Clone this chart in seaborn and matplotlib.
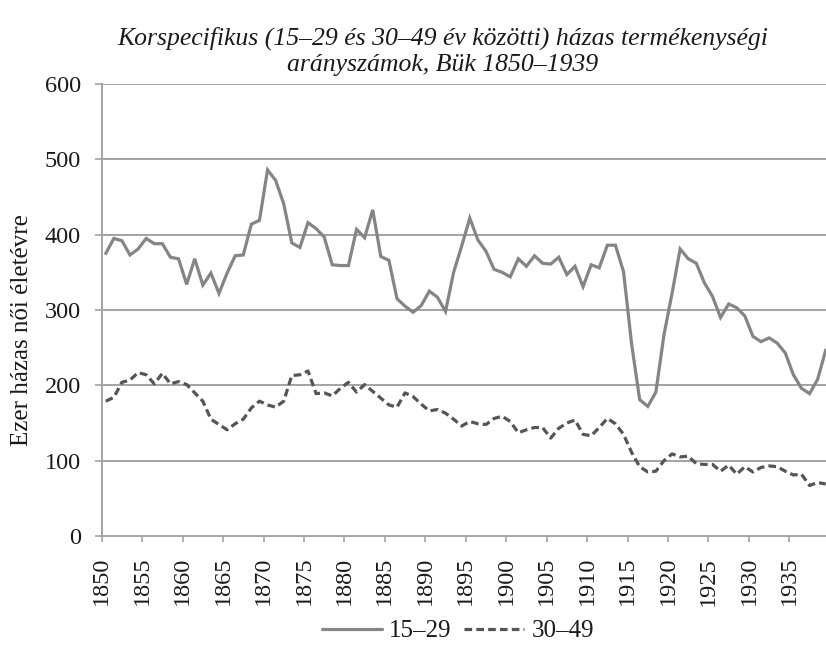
import numpy as np
import pandas as pd
import matplotlib
matplotlib.use("Agg")
import matplotlib.pyplot as plt
import seaborn as sns

years = list(range(1850, 1940))

rate_15_29 = [375, 395, 392, 373, 381, 395, 388, 388, 370, 368,
              334, 368, 333, 349, 322, 349, 372, 373, 414, 419,
              486, 472, 441, 389, 383, 416, 408, 397, 360, 359,
              359, 407, 396, 433, 371, 366, 315, 305, 297, 306,
              325, 317, 298, 350, 385, 422, 393, 378, 354, 350,
              344, 368, 358, 372, 362, 361, 370, 347, 358, 331,
              360, 356, 386, 386, 351, 255, 181, 172, 191, 267,
              322, 381, 368, 362, 336, 318, 290, 308, 303, 292,
              265, 258, 263, 256, 243, 214, 196, 189, 208, 247]

rate_30_49 = [179, 184, 204, 207, 217, 214, 202, 216, 202, 205,
              201, 190, 179, 155, 148, 141, 149, 155, 170, 179,
              174, 171, 179, 213, 214, 219, 189, 190, 186, 196,
              204, 191, 201, 192, 183, 174, 171, 190, 185, 175,
              166, 168, 163, 155, 146, 152, 149, 148, 156, 159,
              152, 137, 141, 144, 144, 130, 143, 150, 154, 135,
              133, 144, 156, 149, 135, 111, 92, 85, 86, 100,
              109, 105, 106, 96, 95, 95, 86, 94, 82, 92,
              85, 91, 93, 92, 86, 81, 82, 67, 71, 69]

series_labels = ["15–29", "30–49"]
title_text = "Korspecifikus (15–29 és 30–49 év közötti) házas termékenységi\narányszámok, Bük 1850–1939"
ylabel_text = "Ezer házas női életévre"
y_ticks = [0, 100, 200, 300, 400, 500, 600]
x_tick_years = list(range(1850, 1940, 5))

sns.set_style("white")
plt.rcParams["font.family"] = ["Liberation Serif", "DejaVu Serif"]

W, H = 826, 648
fig = plt.figure(figsize=(W / 100, H / 100), dpi=100)
left_px, right_px, top_px, bot_px = 101.7, 829.8, 84, 536
ax = fig.add_axes([left_px / W, 1 - bot_px / H, (right_px - left_px) / W, (bot_px - top_px) / H])

df = pd.DataFrame({"year": years, "a": rate_15_29, "b": rate_30_49})

sns.lineplot(data=df, x="year", y="a", ax=ax, color="#858585", lw=2.3,
             label=series_labels[0], solid_joinstyle="miter")
sns.lineplot(data=df, x="year", y="b", ax=ax, color="#555555", lw=2.3,
             linestyle=(0, (2.4, 1.3)), label=series_labels[1])

ax.set_xlim(1849.5, 1939.5)
ax.set_ylim(0, 600)
ax.set_yticks(y_ticks)
ax.set_yticklabels([str(v) for v in y_ticks])
ax.set_xticks([y - 0.5 for y in x_tick_years])
ax.set_xticklabels([str(y) for y in x_tick_years], rotation=90)

grid_c = "#a3a3a3"
for v in y_ticks[1:]:
    ax.axhline(v, color=grid_c, lw=1.4, zorder=0.5)
for s in ["top", "right"]:
    ax.spines[s].set_visible(False)
for s in ["left", "bottom"]:
    ax.spines[s].set_color(grid_c)
    ax.spines[s].set_linewidth(1.4)

ax.tick_params(axis="y", direction="out", length=5, width=1.2, color=grid_c,
               pad=10, labelsize=17.5, labelcolor="#1a1a1a", left=True)
ax.tick_params(axis="x", direction="out", length=4, width=1.2, color=grid_c,
               pad=11, labelsize=17.5, labelcolor="#1a1a1a", bottom=True)

ax.set_xlabel("")
ax.set_ylabel(ylabel_text, fontsize=18, color="#1a1a1a", va="center")
ax.yaxis.set_label_coords((22 - left_px) / (right_px - left_px), (bot_px - 330) / (bot_px - top_px))

fig.text(443 / W, 1 - 51 / H, title_text, ha="center", va="center",
         fontsize=18.5, style="italic", color="#1a1a1a", linespacing=1.25)

ax.get_legend().remove()
handles, labels = ax.get_legend_handles_labels()
fig.legend(handles, labels, loc="center", bbox_to_anchor=(458 / W, 1 - 631 / H),
           ncol=2, frameon=False, fontsize=18, handlelength=2.4, handletextpad=0.3,
           columnspacing=0.5, labelcolor="#1a1a1a")

fig.savefig("out.png", dpi=100)
